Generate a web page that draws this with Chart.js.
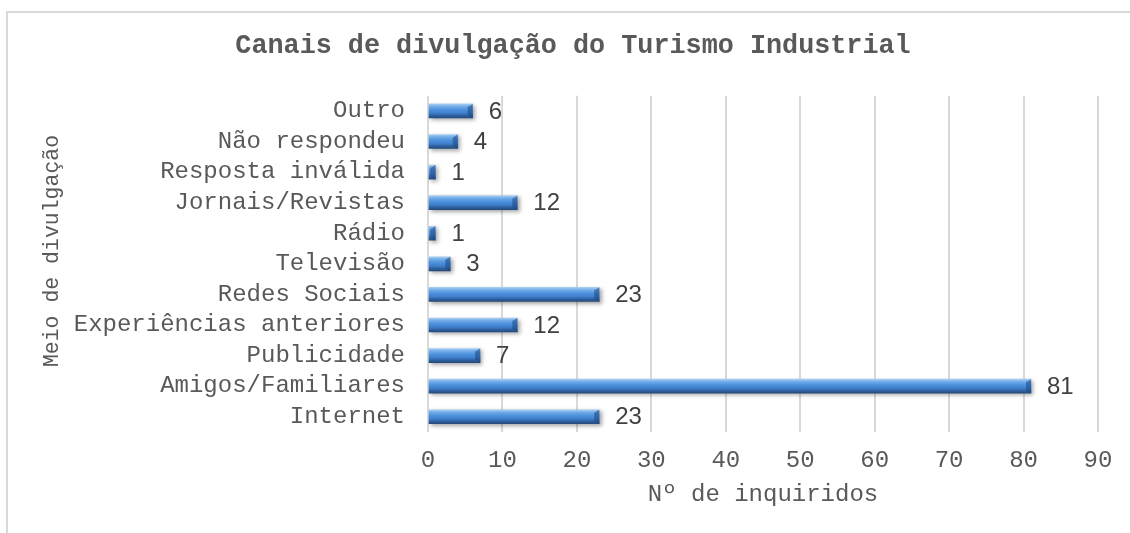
<!DOCTYPE html>
<html><head><meta charset="utf-8">
<script src="https://cdn.jsdelivr.net/npm/chart.js@4"></script>
<style>
html,body{margin:0;padding:0;background:#fff;overflow:hidden;width:1130px;height:533px;}
#frame{position:absolute;left:6px;top:11px;width:1300px;height:700px;border:2px solid #d9d9d9;box-sizing:border-box;}
#c{position:absolute;left:0;top:0;}
</style></head><body>
<div id="frame"></div>
<canvas id="c" width="1130" height="533"></canvas>
<script>
const chartTitle = 'Canais de divulgação do Turismo Industrial';
const xTitle = 'Nº de inquiridos';
const yTitle = 'Meio de divulgação';
const categories = ['Outro','Não respondeu','Resposta inválida','Jornais/Revistas','Rádio','Televisão','Redes Sociais','Experiências anteriores','Publicidade','Amigos/Familiares','Internet'];
const values = [6,4,1,12,1,3,23,12,7,81,23];
const xTicks = [0,10,20,30,40,50,60,70,80,90];

const MONO = '"Liberation Mono", "DejaVu Sans Mono", monospace';
const BAR_H = 14;

const barFx = {
  id: 'barFx',
  beforeDatasetsDraw(chart) {
    const ctx = chart.ctx;
    ctx.save();
    ctx.shadowColor = 'rgba(0,0,0,0.35)';
    ctx.shadowBlur = 4;
    ctx.shadowOffsetX = 2;
    ctx.shadowOffsetY = 2;
  },
  afterDatasetsDraw(chart) {
    const ctx = chart.ctx;
    ctx.restore();
    const meta = chart.getDatasetMeta(0);
    ctx.save();
    meta.data.forEach((bar, i) => {
      const p = bar.getProps(['x','y','base','height'], true);
      const top = p.y - p.height/2, bot = p.y + p.height/2;
      const d = Math.min(5, Math.max(0, p.x - p.base));
      ctx.beginPath();
      ctx.moveTo(p.x - d, top + 3);
      ctx.lineTo(p.x, top);
      ctx.lineTo(p.x, bot);
      ctx.lineTo(p.x - d, bot - 3);
      ctx.closePath();
      ctx.fillStyle = 'rgba(30,70,125,0.55)';
      ctx.fill();
      ctx.fillStyle = '#404040';
      ctx.font = '24px "Liberation Sans", Arial, sans-serif';
      ctx.textAlign = 'left';
      ctx.textBaseline = 'middle';
      ctx.fillText(String(values[i]), p.x + 16, p.y + 1);
    });
    ctx.restore();
  },
  afterDraw(chart) {
    const ctx = chart.ctx;
    ctx.save();
    ctx.translate(52, 251);
    ctx.rotate(-Math.PI/2);
    ctx.font = '21.5px ' + MONO;
    ctx.fillStyle = '#595959';
    ctx.textAlign = 'center';
    ctx.textBaseline = 'middle';
    ctx.fillText(yTitle, 0, 0);
    ctx.restore();
  }
};

new Chart(document.getElementById('c'), {
  type: 'bar',
  data: {
    labels: categories,
    datasets: [{
      data: values,
      barThickness: BAR_H,
      borderWidth: 0,
      backgroundColor: (c) => {
        const chart = c.chart;
        const ys = chart.scales && chart.scales.y;
        if (!ys || c.type !== 'data' || !chart.chartArea) return '#4a8ad4';
        const yc = ys.getPixelForValue(c.dataIndex);
        if (!isFinite(yc)) return '#4a8ad4';
        const g = chart.ctx.createLinearGradient(0, yc - BAR_H/2, 0, yc + BAR_H/2);
        g.addColorStop(0, '#a6cdf3');
        g.addColorStop(0.18, '#72ace8');
        g.addColorStop(0.4, '#4f92de');
        g.addColorStop(0.65, '#3f7fcc');
        g.addColorStop(0.85, '#2d5e9c');
        g.addColorStop(1, '#244b7c');
        return g;
      }
    }]
  },
  options: {
    indexAxis: 'y',
    responsive: false,
    animation: false,
    devicePixelRatio: 1,
    layout: { padding: { left: 48, right: 32, top: 0, bottom: 0 } },
    plugins: {
      legend: { display: false },
      tooltip: { enabled: false },
      title: {
        display: true,
        text: chartTitle,
        color: '#595959',
        font: { family: MONO, size: 26.8, weight: 'bold' },
        padding: { top: 30, bottom: 33.5 }
      }
    },
    scales: {
      x: {
        min: xTicks[0],
        max: xTicks[xTicks.length - 1],
        ticks: { stepSize: xTicks[1] - xTicks[0], color: '#595959', font: { family: MONO, size: 24 }, padding: 14 },
        grid: { color: '#d9d9d9', lineWidth: 2, drawTicks: false },
        border: { display: false },
        title: { display: true, text: xTitle, color: '#595959', font: { family: MONO, size: 24 }, padding: { top: 4, bottom: 24 } },
        afterFit(s) { s.height = 101; }
      },
      y: {
        grid: { display: false, drawTicks: false },
        border: { display: false },
        ticks: { color: '#595959', font: { family: MONO, size: 24 }, padding: 23, autoSkip: false },
        afterFit(s) { s.width = 380; }
      }
    }
  },
  plugins: [barFx]
});
</script>
</body></html>
